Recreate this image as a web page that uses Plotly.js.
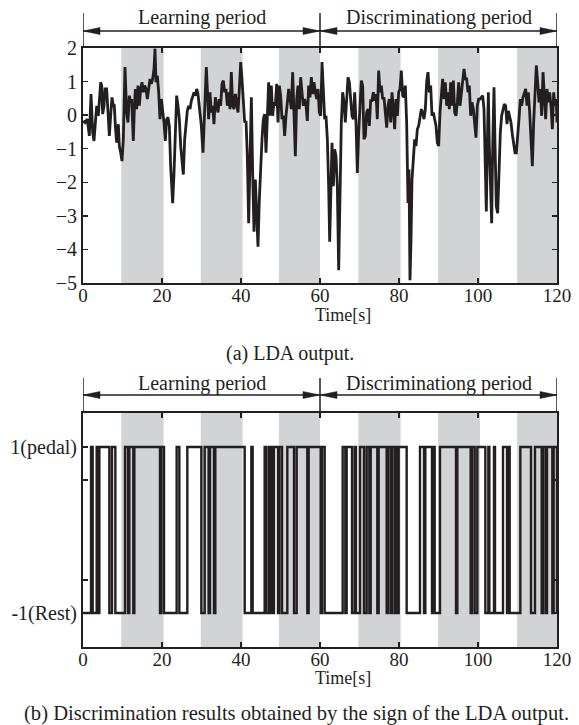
<!DOCTYPE html>
<html>
<head>
<meta charset="utf-8">
<script src="https://cdn.plot.ly/plotly-3.0.1.min.js"></script>
<style>html,body{margin:0;padding:0;background:#fff;}#chart{width:579px;height:725px;}</style>
</head>
<body>
<div id="chart"></div>
<script>
// ---- data ----
const time = [0.08,0.51,1.10,1.60,2.03,2.45,2.78,3.04,3.46,3.88,4.14,4.47,4.73,4.98,5.32,5.57,5.99,6.24,6.67,7.00,7.34,7.68,7.93,8.19,8.52,8.95,9.20,9.54,9.87,10.21,10.63,11.05,11.39,11.73,12.07,12.32,12.74,13.00,13.25,13.59,13.92,14.26,14.60,14.94,15.27,15.61,15.95,16.29,16.62,16.96,17.30,17.64,17.97,18.23,18.48,18.82,19.16,19.49,19.83,20.17,20.51,20.84,21.18,21.52,21.86,22.19,22.70,23.04,23.38,23.71,24.05,24.39,24.73,25.06,25.40,25.74,26.08,26.41,26.75,27.09,27.43,27.76,28.10,28.44,28.78,29.11,
29.54,29.96,30.38,30.80,31.22,31.48,31.81,32.15,32.49,32.83,33.16,33.50,33.84,34.18,34.51,34.85,35.19,35.53,35.86,36.20,36.54,36.88,37.22,37.55,37.89,38.23,38.57,38.90,39.24,39.58,39.92,40.25,40.59,40.93,41.27,41.60,41.94,42.28,42.62,42.95,43.29,43.63,43.97,44.30,44.64,44.98,45.32,45.65,45.99,46.33,46.67,47.00,47.34,47.68,48.02,48.35,48.69,49.03,49.37,49.70,50.04,50.38,50.72,51.05,51.39,51.73,52.07,52.41,52.74,53.08,53.42,53.76,54.09,54.43,54.77,55.11,55.44,55.78,56.12,56.46,56.79,57.13,57.47,57.81,58.14,58.48,58.82,59.16,59.49,59.83,
60.17,60.51,60.84,61.18,61.52,61.86,62.19,62.45,62.70,63.04,63.38,63.71,64.05,64.39,64.73,65.06,65.40,65.74,66.08,66.41,66.75,67.09,67.43,67.76,68.10,68.44,68.78,69.11,69.45,69.79,70.13,70.46,70.80,71.14,71.48,71.81,72.15,72.49,72.83,73.16,73.50,73.84,74.18,74.51,74.85,75.19,75.53,75.86,76.20,76.54,76.88,77.22,77.55,77.89,78.23,78.57,78.90,79.24,79.58,79.92,80.25,80.59,80.93,81.27,81.60,81.94,82.28,82.53,82.78,83.04,83.29,83.63,83.97,84.30,84.64,84.98,85.32,85.65,85.99,86.33,86.67,87.00,87.34,87.68,88.02,88.35,88.69,89.03,89.37,89.70,
90.04,90.38,90.72,91.05,91.39,91.73,92.07,92.41,92.74,93.08,93.42,93.76,94.09,94.43,94.77,95.11,95.44,95.78,96.12,96.46,96.79,97.13,97.47,97.81,98.14,98.48,98.82,99.16,99.49,99.83,100.17,100.51,100.84,101.18,101.52,101.86,102.11,102.36,102.62,102.87,103.12,103.46,103.71,104.05,104.30,104.64,104.98,105.32,105.65,105.99,106.33,106.67,107.00,107.34,107.68,108.02,108.35,108.69,109.03,109.37,109.70,110.04,110.38,110.72,111.05,111.39,111.73,112.07,112.41,112.74,113.08,113.42,113.76,114.09,114.43,114.77,115.11,115.44,115.78,116.12,116.46,116.79,117.13,117.47,117.81,118.14,118.48,118.82,119.16,119.49,119.83,120.00];

const ldaOutput = [-0.17,-0.22,-0.12,-0.62,0.63,-0.52,-0.77,-0.32,0.28,-0.02,0.38,0.98,0.88,0.03,0.28,0.78,0.78,0.28,-0.62,-0.02,0.53,0.28,0.28,-0.32,-0.82,-0.27,-0.92,-1.12,-1.37,-0.72,1.43,0.08,-0.22,0.58,0.38,0.48,-0.77,0.18,0.78,0.18,0.88,0.28,0.78,0.98,0.68,0.88,0.78,0.48,0.88,1.08,0.93,1.08,1.38,1.98,0.98,1.18,0.68,-0.12,0.48,0.18,-0.22,-0.77,-0.12,-0.07,-0.32,-1.52,-2.62,-1.72,-0.12,0.58,0.28,-0.12,-0.92,-1.42,-1.77,-0.72,-0.22,0.13,0.28,0.18,0.43,0.53,0.68,0.58,0.78,0.63,
0.13,-0.32,-1.12,0.08,1.43,0.78,-0.12,0.68,0.08,0.28,-0.27,0.53,0.28,0.08,0.48,0.28,0.93,1.03,0.68,0.78,0.28,0.68,0.18,1.28,0.28,0.18,0.63,0.28,0.08,0.78,1.58,1.08,0.28,-0.22,-0.17,-1.22,-3.22,-1.72,0.53,-1.72,-3.47,-1.92,-2.72,-3.92,-2.52,-1.52,-0.72,-0.12,0.03,-1.12,-0.22,0.98,-0.02,0.88,-0.02,0.38,0.28,0.93,-0.22,0.88,0.58,-0.12,-0.02,-0.62,-0.02,0.43,0.78,0.48,0.18,1.28,-0.22,-1.22,0.48,0.88,0.18,1.13,0.68,0.28,0.48,0.28,-0.17,0.88,0.53,1.13,0.63,0.98,0.68,0.48,0.78,0.08,
-0.02,1.58,0.78,-0.12,-0.02,-0.72,-2.12,-3.77,-2.52,-0.82,-2.12,-1.02,-1.22,-2.12,-4.62,-1.72,-0.22,0.68,0.38,-0.22,0.68,1.13,0.98,0.48,-0.02,-0.12,0.68,-0.22,-1.72,-0.52,0.48,1.03,0.88,-0.72,-0.62,0.08,0.18,-0.32,0.43,0.43,0.68,0.43,0.63,-0.12,1.33,0.68,0.88,0.48,0.53,0.08,-0.37,0.28,0.48,-0.22,0.68,0.18,-0.42,0.48,-0.02,0.68,0.78,1.33,0.58,0.53,0.88,-0.22,-2.62,-1.62,-4.92,-3.72,-1.92,-1.32,-0.72,-0.92,-0.42,-0.32,0.03,0.18,0.08,-0.12,0.18,0.98,1.28,0.68,0.88,-0.02,0.08,-0.12,-0.32,-0.82,
-0.92,0.08,0.48,1.08,0.48,0.98,0.28,0.68,0.18,0.98,0.28,1.03,0.08,-0.02,0.38,0.98,0.28,0.63,1.08,1.38,1.08,1.08,0.68,0.88,-0.02,0.38,0.18,-0.32,-0.67,0.28,0.48,0.48,0.53,0.58,0.18,-1.52,-2.87,-0.92,0.68,-0.92,-2.22,-3.22,-1.02,0.83,-0.82,-2.72,-2.92,-1.72,-0.52,-0.02,0.18,0.33,0.28,-0.27,0.13,-0.02,-0.22,-0.57,-0.92,-1.12,-1.12,-0.72,-0.12,0.48,0.28,0.53,0.68,0.78,0.28,0.68,0.08,-0.72,-1.52,-0.22,0.88,1.48,0.98,0.38,0.78,-0.02,1.28,0.48,-0.12,0.78,0.38,0.68,0.28,-0.42,0.68,0.28,0.48,-0.22];

// discrimination result = sign of the LDA output (as stated in the caption)
const discrimination = ldaOutput.map(function (v) { return v >= 0 ? 1 : -1; });

// pedalling (grey) intervals [start, end] in seconds
const pedalStart = [9.7, 29.8, 49.6, 69.7, 89.9, 109.9];
const pedalEnd   = [20.4, 40.4, 60.0, 80.4, 100.5, 120.0];

// periods
const periodNames = ['Learning period', 'Discriminationg period'];
const periodStart = [0, 60];
const periodEnd   = [60, 120];

const xTicks = [0, 20, 40, 60, 80, 100, 120];
const yTicksA = [-5, -4, -3, -2, -1, 0, 1, 2];
const yTicksB = [-1, -0.6, 0.6, 1];
const yTextB  = ['-1(Rest)', '', '', '1(pedal)'];

// ---- styling ----
const INK = '#231f20';
const GREY = '#d1d3d4';
const FONT = 'Liberation Serif, Times New Roman, serif';
const W = 579, H = 725;
const px = function (y) { return 1 - y / H; };

const xDom = [83 / W, 557 / W];
const yDomA = [px(283), px(48)];
const yDomB = [px(647), px(413)];

function axisX(anchor) {
  return {
    domain: xDom, anchor: anchor, range: [0, 120],
    tickvals: xTicks, ticks: 'inside', ticklen: 5, tickwidth: 1.5, tickcolor: INK,
    showline: true, linewidth: 2, linecolor: INK, mirror: 'ticks',
    showgrid: false, zeroline: false, ticklabelstandoff: -6,
    tickfont: {family: FONT, size: 19, color: INK}
  };
}
function axisY(anchor, dom, range, vals, text) {
  const a = {
    domain: dom, anchor: anchor, range: range,
    tickvals: vals, ticks: 'inside', ticklen: 5, tickwidth: 1.5, tickcolor: INK,
    showline: true, linewidth: 2, linecolor: INK, mirror: 'ticks',
    showgrid: false, zeroline: false, tickfont: {family: FONT, size: 20, color: INK}
  };
  if (text) a.ticktext = text;
  return a;
}

const shapes = [];
const annotations = [];

// grey bands
[['x', 'y domain'], ['x2', 'y2 domain']].forEach(function (r) {
  for (let i = 0; i < pedalStart.length; i++) {
    shapes.push({type: 'rect', xref: r[0], yref: r[1], x0: pedalStart[i], x1: pedalEnd[i], y0: 0, y1: 1,
      fillcolor: GREY, line: {width: 0}, layer: 'below'});
  }
});

// period arrows above each panel
const headLen = 4.3; // seconds
const headHalf = 3.5 / H;
[{xr: 'x', top: 48, arrow: 31, vtop: 13, label: 18}, {xr: 'x2', top: 413, arrow: 395, vtop: 378, label: 383}].forEach(function (p) {
  const yTop = px(p.top), yA = px(p.arrow), yV = px(p.vtop);
  const bounds = [periodStart[0], periodEnd[0], periodEnd[1]];
  bounds.forEach(function (b) {
    shapes.push({type: 'line', xref: p.xr, yref: 'paper', x0: b, x1: b, y0: yTop, y1: yV, line: {color: INK, width: 1.5}});
  });
  for (let i = 0; i < periodNames.length; i++) {
    const s = periodStart[i], e = periodEnd[i];
    shapes.push({type: 'line', xref: p.xr, yref: 'paper', x0: s, x1: e, y0: yA, y1: yA, line: {color: INK, width: 1.5}});
    shapes.push({type: 'path', xref: p.xr, yref: 'paper',
      path: 'M ' + s + ',' + yA + ' L ' + (s + headLen) + ',' + (yA + headHalf) + ' L ' + (s + headLen) + ',' + (yA - headHalf) + ' Z',
      fillcolor: INK, line: {color: INK, width: 0.5}});
    shapes.push({type: 'path', xref: p.xr, yref: 'paper',
      path: 'M ' + e + ',' + yA + ' L ' + (e - headLen) + ',' + (yA + headHalf) + ' L ' + (e - headLen) + ',' + (yA - headHalf) + ' Z',
      fillcolor: INK, line: {color: INK, width: 0.5}});
    annotations.push({xref: p.xr, yref: 'paper', x: (s + e) / 2, y: px(p.label), text: periodNames[i],
      showarrow: false, xanchor: 'center', yanchor: 'middle', font: {family: FONT, size: 20, color: INK}});
  }
});

// axis titles and captions
annotations.push({xref: 'paper', yref: 'paper', x: 343 / W, y: px(315), text: 'Time[s]', showarrow: false,
  xanchor: 'center', yanchor: 'middle', font: {family: FONT, size: 18, color: INK}});
annotations.push({xref: 'paper', yref: 'paper', x: 343 / W, y: px(678), text: 'Time[s]', showarrow: false,
  xanchor: 'center', yanchor: 'middle', font: {family: FONT, size: 18, color: INK}});
annotations.push({xref: 'paper', yref: 'paper', x: 290 / W, y: px(353), text: '(a) LDA output.', showarrow: false,
  xanchor: 'center', yanchor: 'middle', font: {family: FONT, size: 20, color: INK}});
annotations.push({xref: 'paper', yref: 'paper', x: 22 / W, y: px(713), text: '(b) Discrimination results obtained by the sign of the LDA output.', showarrow: false,
  xanchor: 'left', yanchor: 'middle', font: {family: FONT, size: 20.6, color: INK}});

const traces = [
  {x: time, y: ldaOutput, xaxis: 'x', yaxis: 'y', type: 'scatter', mode: 'lines',
   line: {color: INK, width: 2.8}, hoverinfo: 'skip'},
  {x: time, y: discrimination, xaxis: 'x2', yaxis: 'y2', type: 'scatter', mode: 'lines',
   line: {color: INK, width: 2.4, shape: 'hv'}, hoverinfo: 'skip'}
];

const layout = {
  width: W, height: H, margin: {l: 0, r: 0, t: 0, b: 0},
  paper_bgcolor: '#fff', plot_bgcolor: 'rgba(0,0,0,0)', showlegend: false,
  font: {family: FONT, color: INK},
  xaxis: axisX('y'),
  yaxis: axisY('x', yDomA, [-5, 2], yTicksA),
  xaxis2: axisX('y2'),
  yaxis2: axisY('x2', yDomB, [-1.41, 1.41], yTicksB, yTextB),
  shapes: shapes, annotations: annotations
};

Plotly.newPlot('chart', traces, layout, {staticPlot: true, displayModeBar: false});
</script>
</body>
</html>
